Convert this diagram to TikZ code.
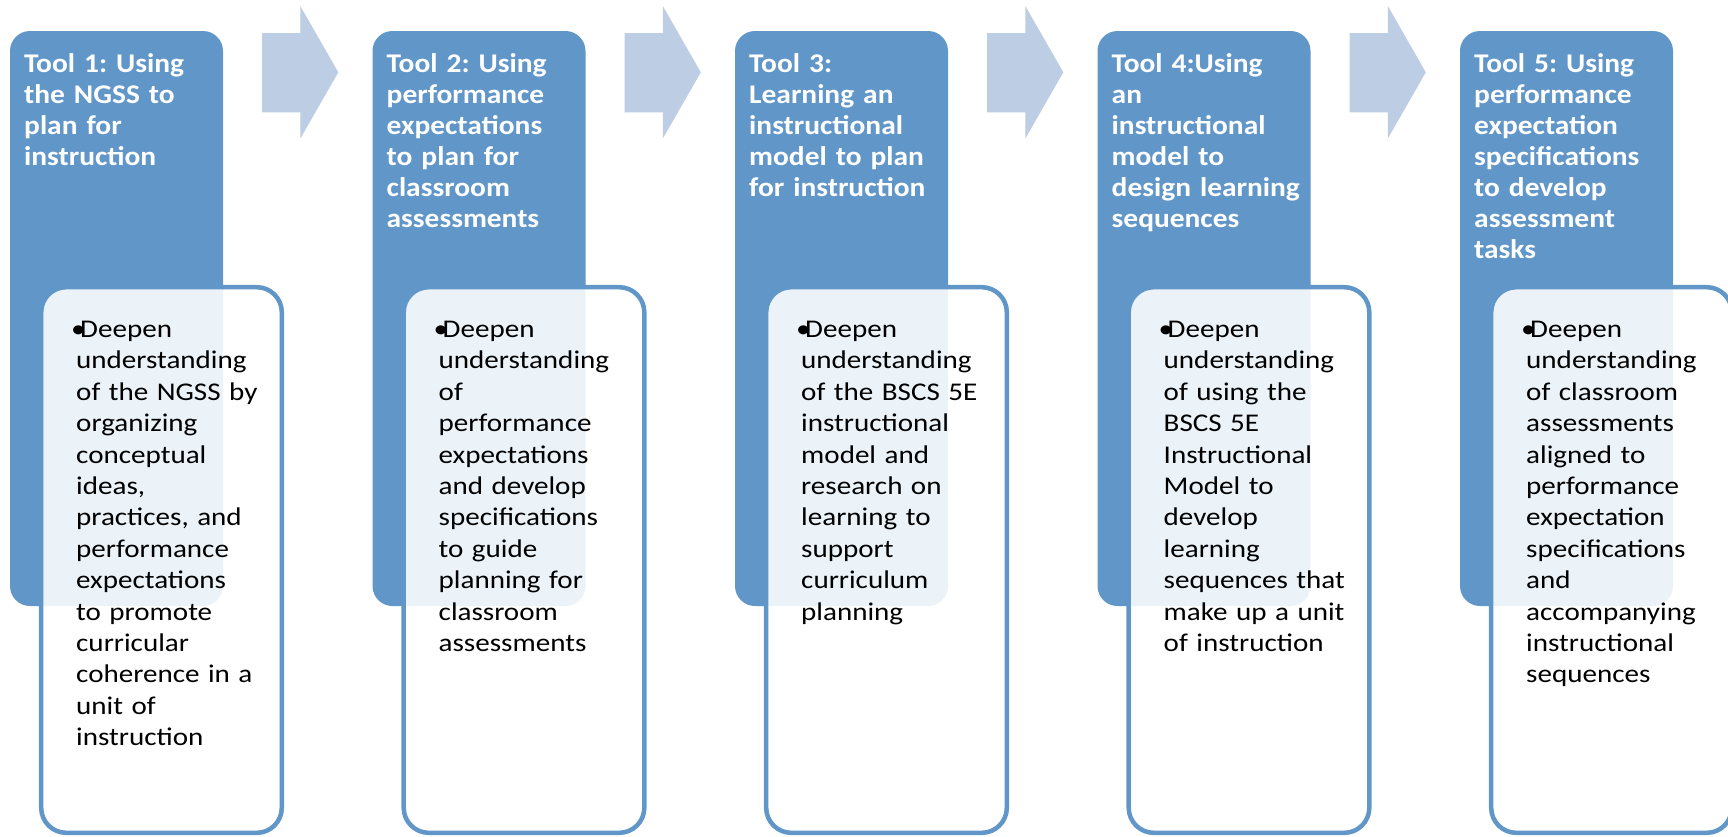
\documentclass[tikz,border=0pt]{standalone}
\usepackage{fontspec}
\setmainfont{Carlito}
\newfontfamily\headfont{Carlito}[FakeStretch=1.09]
\newfontfamily\bodyfont{Carlito}[FakeStretch=1.14]
\frenchspacing

\definecolor{toolblue}{RGB}{97,150,201}
\definecolor{arrowblue}{RGB}{188,205,228}

\tikzset{
  toolbox/.style={fill=toolblue, rounded corners=20pt, minimum width=213pt,
    minimum height=575pt, anchor=north west, inner sep=0pt, outer sep=0pt},
  cardbox/.style={draw=toolblue, line width=4.5pt, fill=white, fill opacity=0.88,
    rounded corners=25pt, minimum width=240.6pt, minimum height=545.6pt,
    anchor=north west, inner sep=0pt, outer sep=0pt},
  headtext/.style={text=white, font=\headfont\bfseries\fontsize{27}{31}\selectfont\frenchspacing,
    align=left, text width=240pt, anchor=base west, inner sep=0pt},
  bodytext/.style={text=black, font=\bodyfont\fontsize{25.5}{31.4}\selectfont\frenchspacing,
    align=left, text width=240pt, anchor=base west, inner sep=0pt},
  bullettext/.style={text=black, font=\bodyfont\fontsize{25.5}{31.4}\selectfont,
    anchor=base west, inner sep=0pt},
  flowarrow/.style={fill=arrowblue}
}

% one column: #1 index, #2 left edge, #3 heading, #4 bullet text
\newcommand\toolcol[4]{%
  \node[toolbox] (blue#1) at (#2,31) {};
  \node[cardbox] (card#1) at (#2+31.2,287.2) {};
  \node[headtext] (head#1) at (#2+14,72) {#3};
  \node[bullettext] (dot#1) at (#2+61,337.5) {\textbullet};
  \node[bodytext] (body#1) at (#2+66,337.5) {\hspace*{4pt}#4};
}

% block arrow between columns, #1 = left end of its shaft
\newcommand\flowarrowat[1]{%
  \fill[flowarrow] (#1,33) -- (#1+38.3,33) -- (#1+38.3,6) -- (#1+76.3,72.3)
    -- (#1+38.3,138.6) -- (#1+38.3,112.3) -- (#1,112.3) -- cycle;
}

\begin{document}
\begin{tikzpicture}[x=1pt,y=-1pt]
  \useasboundingbox (0,0) rectangle (1728,836);
  \clip (0,0) rectangle (1728,836);

  \flowarrowat{262}
  \flowarrowat{624.5}
  \flowarrowat{987}
  \flowarrowat{1349.5}

  \toolcol{1}{10}
    {Tool 1: Using\\the NGSS to\\plan for\\instruction}
    {Deepen\\understanding\\of the NGSS by\\organizing\\conceptual\\ideas,\\practices, and\\performance\\expectations\\to promote\\curricular\\coherence in a\\unit of\\instruction}
  \toolcol{2}{372.5}
    {Tool 2: Using\\performance\\expectations\\to plan for\\classroom\\assessments}
    {Deepen\\understanding\\of\\performance\\expectations\\and develop\\specifications\\to guide\\planning for\\classroom\\assessments}
  \toolcol{3}{735}
    {Tool 3:\\Learning an\\instructional\\model to plan\\for instruction}
    {Deepen\\understanding\\of the BSCS 5E\\instructional\\model and\\research on\\learning to\\support\\curriculum\\planning}
  \toolcol{4}{1097.5}
    {Tool 4:Using\\an\\instructional\\model to\\design learning\\sequences}
    {Deepen\\understanding\\of using the\\BSCS 5E\\Instructional\\Model to\\develop\\learning\\sequences that\\make up a unit\\of instruction}
  \toolcol{5}{1460}
    {Tool 5: Using\\performance\\expectation\\specifications\\to develop\\assessment\\tasks}
    {Deepen\\understanding\\of classroom\\assessments\\aligned to\\performance\\expectation\\specifications\\and\\accompanying\\instructional\\sequences}
\end{tikzpicture}
\end{document}
